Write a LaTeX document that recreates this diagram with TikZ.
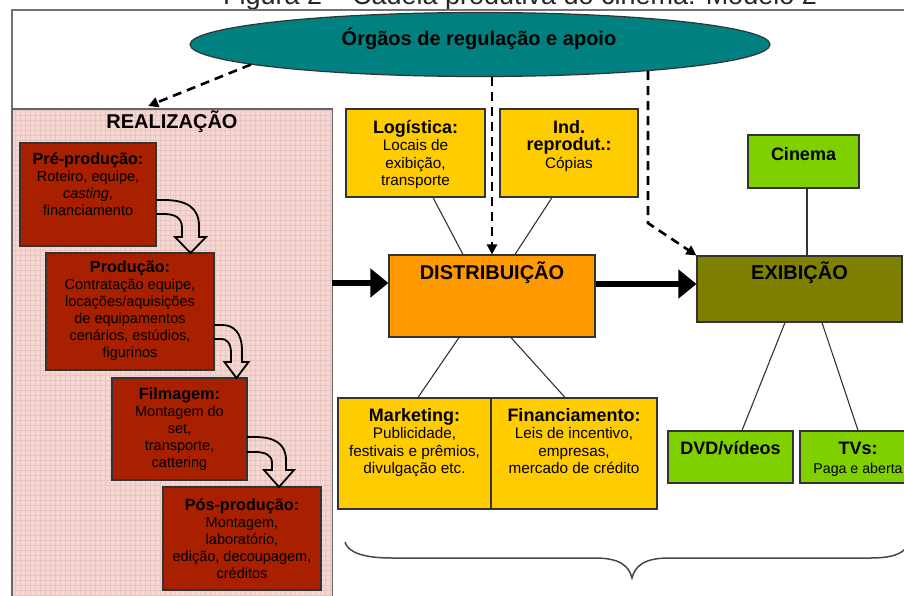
\documentclass[tikz,border=0pt]{standalone}
\usepackage{fontspec}
\setmainfont{Liberation Sans}
\usetikzlibrary{arrows.meta,shapes.geometric,calc}
\definecolor{teal1}{HTML}{008080}
\definecolor{pinkbg}{HTML}{F4D6D2}
\definecolor{pinkgrid}{HTML}{EBC4BF}
\definecolor{redbox}{HTML}{A82000}
\definecolor{yellowbox}{HTML}{FFCC00}
\definecolor{orangebox}{HTML}{FF9900}
\definecolor{olivebox}{HTML}{808000}
\definecolor{greenbox}{HTML}{80D000}
\definecolor{edge}{HTML}{333333}
\newcommand{\hdr}[1]{{\fontsize{16.2}{19}\selectfont\bfseries #1}}
\newcommand{\hdy}[1]{{\fontsize{18}{20}\selectfont\bfseries #1}}
\newcommand{\hollowarr}[8]{%
 \draw[hollow] (#1,#2) -- ({#1+8},#2) .. controls ({#4-0.3*(#4-#1)},#2) and (#4,{#2+0.2*(#6-#2)}) .. (#4,{#2+0.7*(#6-#2)}) -- (#4,#6) -- ({(#4+#5)/2+#8},#6) -- ({(#4+#5)/2},#7) -- ({(#4+#5)/2-#8},#6) -- (#5,#6) -- (#5,{#3+0.6*(#6-#3)}) .. controls (#5,{#3+0.15*(#6-#3)}) and ({#5-0.3*(#5-#1)},#3) .. ({#1+8},#3) -- (#1,#3);}
\begin{document}
\begin{tikzpicture}[x=1pt,y=-1pt,
  box/.style={draw=edge, line width=1.1pt, inner sep=0pt},
  redbx/.style={box, fill=redbox},
  ylwbx/.style={box, fill=yellowbox},
  grnbx/.style={box, fill=greenbox},
  lbl/.style={align=center, inner sep=0pt, anchor=north, font=\fontsize{14.5}{17}\selectfont},
  lbly/.style={lbl, font=\fontsize{15.3}{17.5}\selectfont},
  big/.style={font=\fontsize{20}{24}\selectfont\bfseries, inner sep=0pt},
  grnlbl/.style={font=\fontsize{18}{20}\selectfont\bfseries, inner sep=0pt},
  conn/.style={draw=edge, line width=1.1pt},
  dsh/.style={line width=2.6pt, dash pattern=on 9pt off 6pt, -{Triangle[length=10pt,width=10pt]}},
  bigarrow/.style={line width=6.5pt, -{Triangle[length=18pt,width=28pt]}},
  hollow/.style={draw=black, line width=1.8pt, line join=miter}]
\useasboundingbox (0,0) rectangle (904,595);
\clip (0,0) rectangle (904,595);
\fill[white] (0,0) rectangle (904,595);

% title (cut off at the top)
\node[anchor=base, font=\fontsize{27}{30}\selectfont, text=black!85, inner sep=0pt] (title) at (520,4) {Figura 2 – Cadeia produtiva do cinema: Modelo 2};

% frame
\draw[black!55, line width=1.6pt] (12,700) -- (12,10) -- (950,10);

% realizacao box
\node[fill=pinkbg, minimum width=320pt, minimum height=511pt, anchor=north west, inner sep=0pt] (real) at (12,109) {};
\begin{scope}
\clip (12,109) rectangle (332,620);
\draw[pinkgrid, line width=0.6pt, step=5pt] (12,109) grid (332,620);
\end{scope}
\draw[black!60, line width=1.5pt] (real.north west) rectangle (real.south east);
\node[big] (realtxt) at (172,122) {REALIZAÇÃO};

% red boxes
\node[redbx, minimum width=136pt, minimum height=103pt] (pre) at (88,194.5) {};
\node[redbx, minimum width=168pt, minimum height=117pt] (prod) at (130,311.5) {};
\node[redbx, minimum width=135pt, minimum height=102pt] (film) at (179.5,429) {};
\node[redbx, minimum width=158pt, minimum height=103pt] (pos) at (242,538.5) {};
\node[lbl] (pretxt) at (88,152) {\hdr{Pré-produção:}\\Roteiro, equipe,\\\textit{casting},\\financiamento};
\node[lbl] (prodtxt) at (130,261) {\hdr{Produção:}\\Contratação equipe,\\locações/aquisições\\de equipamentos\\cenários, estúdios,\\figurinos};
\node[lbl] (filmtxt) at (179.5,388) {\hdr{Filmagem:}\\Montagem do\\set,\\transporte,\\cattering};
\node[lbl] (postxt) at (242,498) {\hdr{Pós-produção:}\\Montagem,\\laboratório,\\edição, decoupagem,\\créditos};

% hollow curved arrows
\hollowarr{156}{200}{214}{199}{182}{237}{253}{15.5}
\hollowarr{214}{325}{339}{242}{231}{362}{378}{12}
\hollowarr{247}{437}{452}{286}{272}{470}{487}{15}

% distribution and satellites
\node[box, fill=orangebox, minimum width=206pt, minimum height=82pt] (dist) at (492,296) {};
\node[big] (disttxt) at (492,273) {DISTRIBUIÇÃO};
\node[ylwbx, minimum width=139pt, minimum height=88pt] (log) at (415.5,153) {};
\node[ylwbx, minimum width=138pt, minimum height=88pt] (ind) at (569,153) {};
\node[ylwbx, minimum width=153pt, minimum height=111pt] (mkt) at (414.5,453.5) {};
\node[ylwbx, minimum width=166pt, minimum height=111pt] (fin) at (574,453.5) {};
\node[lbly] (logtxt) at (415.5,120) {\hdy{Logística:}\\Locais de\\exibição,\\transporte};
\node[lbly] (indtxt) at (569,120) {\hdy{Ind.}\\\hdy{reprodut.:}\\Cópias};
\node[lbly] (mkttxt) at (414.5,408) {\hdy{Marketing:}\\Publicidade,\\festivais e prêmios,\\divulgação etc.};
\node[lbly] (fintxt) at (574,408) {\hdy{Financiamento:}\\Leis de incentivo,\\empresas,\\mercado de crédito};

% exhibition and satellites
\node[box, fill=olivebox, minimum width=205pt, minimum height=66pt] (exh) at (799.5,289) {};
\node[big] (exhtxt) at (799.5,273) {EXIBIÇÃO};
\node[grnbx, minimum width=111pt, minimum height=53pt] (cin) at (803.5,161.5) {};
\node[grnlbl] (cintxt) at (803.5,154) {Cinema};
\node[grnbx, minimum width=125pt, minimum height=52pt] (dvd) at (730.5,457) {};
\node[grnlbl] (dvdtxt) at (730.5,448) {DVD/vídeos};
\node[grnbx, minimum width=116pt, minimum height=52pt] (tv) at (858,457) {};
\node[lbl, font=\fontsize{14.2}{19}\selectfont] (tvtxt) at (858,441.5) {\hdy{TVs:}\\Paga e aberta};

% thin connectors
\draw[conn] ([xshift=17.5pt]log.south) -- ([xshift=-29pt]dist.north);
\draw[conn] ([xshift=-17pt]ind.south) -- ([xshift=23pt]dist.north);
\draw[conn] ([xshift=-33pt]dist.south) -- ([xshift=3.5pt]mkt.north);
\draw[conn] ([xshift=19pt]dist.south) -- ([xshift=-9pt]fin.north);
\draw[conn] ([xshift=3.5pt]cin.south) -- ([xshift=3.5pt]cin.south |- exh.north);
\draw[conn] ([xshift=-14.5pt]exh.south) -- ([xshift=11.5pt]dvd.north);
\draw[conn] ([xshift=22.5pt]exh.south) -- (tv.north);

% big arrows
\path ([yshift=13pt]dist.west) coordinate (a1end);
\path ([yshift=5pt]exh.west) coordinate (a2end);
\draw[bigarrow] (real.east |- a1end) -- (a1end);
\draw[bigarrow] (dist.east |- a2end) -- (a2end);

% ellipse and dashed arrows
\node[ellipse, draw=edge, line width=1.2pt, fill=teal1, minimum width=580pt, minimum height=64pt, inner sep=0pt] (org) at (480,44.5) {};
\node[big] (orgtxt) at (479,39) {Órgãos de regulação e apoio};
\draw[dsh] (org.185) -- ([xshift=-24pt,yshift=3pt]real.north);
\draw[dsh] (org.south -| dist.north) -- (dist.north);
\draw[dsh] (org.-9) -- ++(0,152) -- (exh.north west);

% brace
\draw[edge!90, line width=1.5pt] (345,542) .. controls (348,553) and (365,558) .. (392,558) -- (595,558) .. controls (620,558) and (629,566) .. (632,578) .. controls (635,566) and (644,558) .. (669,558) -- (870,558) .. controls (897,558) and (905,552) .. (910,542);
\end{tikzpicture}
\end{document}
